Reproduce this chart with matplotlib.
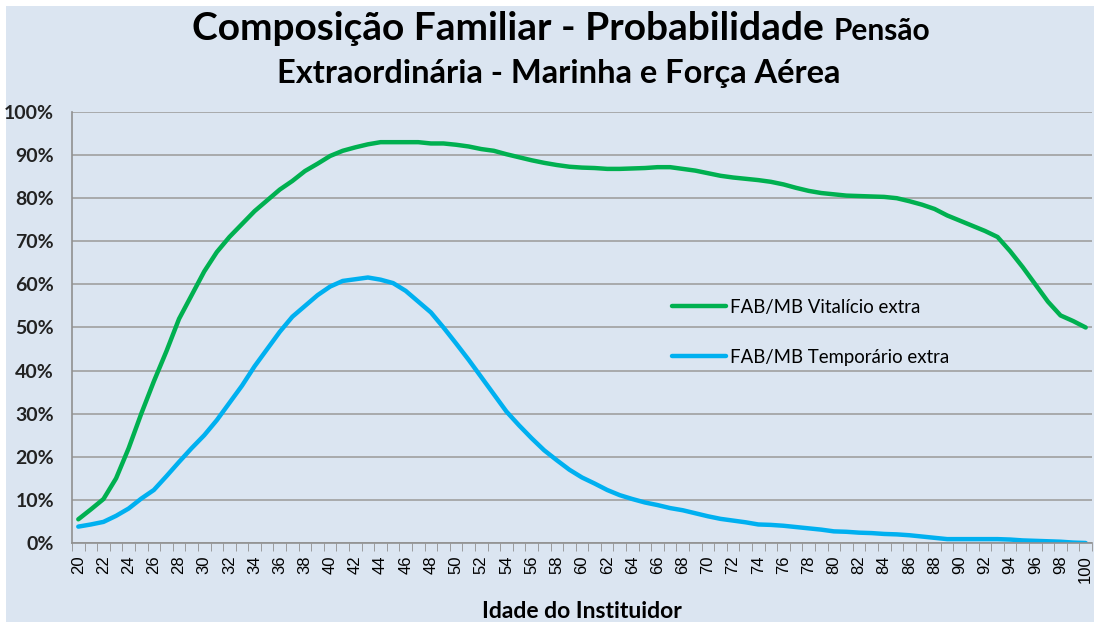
import numpy as np
import matplotlib
matplotlib.use("Agg")
import matplotlib.pyplot as plt
from matplotlib.patches import Rectangle
from matplotlib.ticker import FuncFormatter, MultipleLocator

ages = list(range(20, 101))

vitalicio = [5.5, 7.8, 10.2, 15, 22, 30, 37.5, 44.5, 52, 57.5,
             63, 67.5, 71, 74, 77, 79.5, 82, 84, 86.3, 88,
             89.8, 91, 91.8, 92.5, 93, 93, 93, 93, 92.7, 92.7,
             92.4, 92, 91.4, 91, 90.2, 89.5, 88.8, 88.2, 87.7, 87.3,
             87.1, 87, 86.8, 86.8, 86.9, 87, 87.2, 87.2, 86.8, 86.4,
             85.8, 85.2, 84.8, 84.5, 84.2, 83.8, 83.2, 82.4, 81.7, 81.2,
             80.9, 80.6, 80.5, 80.4, 80.3, 80, 79.3, 78.5, 77.5, 76,
             74.8, 73.6, 72.4, 71, 67.7, 64, 60, 56, 52.8, 51.5, 50]

temporario = [3.8, 4.3, 4.9, 6.3, 8, 10.3, 12.3, 15.5, 18.8, 22,
              25, 28.5, 32.5, 36.5, 41, 45, 49, 52.5, 55, 57.5,
              59.5, 60.8, 61.2, 61.6, 61.1, 60.3, 58.5, 56, 53.5, 50,
              46.3, 42.5, 38.5, 34.5, 30.5, 27.3, 24.3, 21.5, 19.2, 17,
              15.2, 13.8, 12.3, 11.1, 10.2, 9.4, 8.8, 8.1, 7.6, 6.9,
              6.2, 5.6, 5.2, 4.8, 4.3, 4.2, 4.0, 3.7, 3.4, 3.1,
              2.7, 2.6, 2.4, 2.3, 2.1, 2.0, 1.8, 1.5, 1.2, 0.9,
              0.9, 0.9, 0.9, 0.9, 0.8, 0.6, 0.5, 0.4, 0.3, 0.1, 0]

BG = "#dbe5f1"
GREEN = "#00b050"
BLUE = "#00b0f0"

fig = plt.figure(figsize=(10.94, 6.26), dpi=100, facecolor="white")
fig.patches.append(Rectangle((6 / 1094, 4 / 626), 1, 1 - 10 / 626,
                             transform=fig.transFigure, facecolor=BG,
                             edgecolor="none", zorder=-10))

ax = fig.add_axes([72 / 1094, 83 / 626, 1020 / 1094, 431 / 626])
ax.set_facecolor(BG)

ax.plot(ages, np.array(vitalicio) / 100, color=GREEN, lw=3.2,
        label="FAB/MB Vitalício extra", solid_capstyle="round")
ax.plot(ages, np.array(temporario) / 100, color=BLUE, lw=3.2,
        label="FAB/MB Temporário extra", solid_capstyle="round")

ax.set_xlim(19.5, 100.5)
ax.set_ylim(0, 1)
ax.yaxis.set_major_locator(MultipleLocator(0.1))
ax.yaxis.set_major_formatter(FuncFormatter(lambda v, p: f"{v * 100:.0f}%"))
ax.grid(axis="y", color="#a0a0a0", lw=1.2)
ax.set_axisbelow(True)

ax.set_xticks(ages[::2])
ax.set_xticklabels([str(a) for a in ages[::2]], rotation=90,
                   fontfamily="Liberation Sans", fontsize=12)
ax.set_xticks(np.arange(19.5, 101, 1), minor=True)
ax.tick_params(axis="x", which="major", length=0, pad=9)
ax.tick_params(axis="x", which="minor", length=6, color="#909090", direction="out")
ax.tick_params(axis="y", length=0, pad=13)
for lab in ax.get_yticklabels():
    lab.set_fontfamily("Lato")
    lab.set_fontweight("bold")
    lab.set_fontsize(14)
    lab.set_color("#222222")

for s in ["top", "right"]:
    ax.spines[s].set_visible(False)
for s in ["left", "bottom"]:
    ax.spines[s].set_color("#909090")
    ax.spines[s].set_linewidth(1.2)

ax.set_xlabel("Idade do Instituidor", fontfamily="Lato", fontweight="bold",
              fontsize=16.5, labelpad=13)

leg = ax.legend(loc="upper left", bbox_to_anchor=(0.572, 0.605), frameon=False,
                handlelength=2.9, handletextpad=0.2, labelspacing=1.75,
                prop={"family": "Lato", "size": 13.4})

# title with two sizes on first line
renderer = fig.canvas.get_renderer()
t1 = fig.text(0.5, 1 - 40 / 626, "Composição Familiar - Probabilidade ",
              fontfamily="Lato", fontweight="bold", fontsize=28, va="baseline")
t2 = fig.text(0.5, 1 - 40 / 626, "Pensão", fontfamily="Lato",
              fontweight="bold", fontsize=21.5, va="baseline")
w1 = t1.get_window_extent(renderer).width
w2 = t2.get_window_extent(renderer).width
x0 = (197 + 925) / 2 - (w1 + w2) / 2
t1.set_x(x0 / 1094)
t2.set_x((x0 + w1) / 1094)
fig.text((272 + 845) / 2 / 1094, 1 - 83 / 626, "Extraordinária - Marinha e Força Aérea",
         fontfamily="Lato", fontweight="bold", fontsize=23.5, ha="center",
         va="baseline")

fig.savefig("out.png", dpi=100, facecolor="white")
